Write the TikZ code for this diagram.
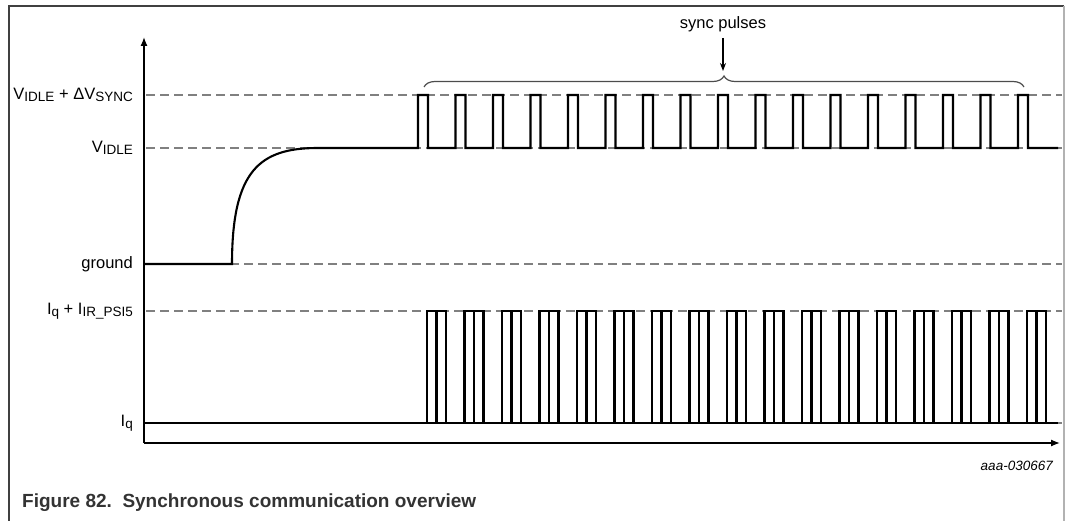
\documentclass[tikz,border=0pt]{standalone}
\usepackage{fontspec}
\setmainfont{Liberation Sans}
\usetikzlibrary{arrows.meta,decorations.pathreplacing}
\newcommand{\sbs}[1]{\raisebox{-2.5pt}{\fontsize{13.5}{14}\selectfont #1}}
\definecolor{dashgray}{HTML}{808080}
\definecolor{capgray}{HTML}{333333}
\begin{document}
\begin{tikzpicture}[x=1pt,y=-1pt,
  wave/.style={line width=2.1pt,black},
  axis/.style={line width=1.3pt,black,-{Latex[length=9pt,width=7pt]}},
  level/.style={dashgray,line width=1.1pt,dash pattern=on 9pt off 5pt},
  lab/.style={anchor=east,inner sep=0pt,font=\fontsize{16.5}{18}\selectfont},
]
\useasboundingbox (0,0) rectangle (1069,521);
% frame
\draw[line width=1.3pt,black!75] (9,521) -- (9,6) -- (1064,6);
\draw[line width=1.8pt,black!30] (1064,6) -- (1064,521);
% level lines
\foreach \yy in {95,148,264,311,423} \draw[level] (146,\yy) -- (1062,\yy);
% labels
\node[lab] (vsync) at (133,95) {V\sbs{IDLE} + ΔV\sbs{SYNC}};
\node[lab] (vidle) at (133,148) {V\sbs{IDLE}};
\node[lab] (gnd) at (133,264) {ground};
\node[lab] (iir) at (133,311) {I\sbs{q} + I\sbs{IR\_PSI5}};
\node[lab] (iq) at (133,423) {I\sbs{q}};
% axes
\coordinate (orig) at (144,443);
\coordinate (ytop) at (144,37);
\coordinate (xend) at (1060,443);
\draw[axis] (orig) -- (ytop);
\draw[axis] (orig) -- (xend);
% voltage waveform
\draw[wave] (144,264) -- (232,264) .. controls (232,170) and (260,148) .. (318,148) -- (418,148)
  \foreach \i in {0,...,16} { -- ({418+37.5*\i},148) -- ({418+37.5*\i},95) -- ({428+37.5*\i},95) -- ({428+37.5*\i},148) }
  -- (1058,148);
% current waveform
\draw[wave] (144,423) -- (1058,423);
\foreach \i in {0,...,16} {
  \draw[wave] ({427+37.5*\i},423) |- ({446+37.5*\i},311) -- ({446+37.5*\i},423);
  \draw[line width=2.6pt] ({436.5+37.5*\i},311) -- ({436.5+37.5*\i},423);
}
% brace and label
\draw[line width=1.2pt,black!70,decorate,decoration={brace,amplitude=11pt}] (424,87) -- (1024,87);
\node[inner sep=0pt,font=\fontsize{16.5}{18}\selectfont] (sync) at (723,24) {sync pulses};
\coordinate (bracetip) at (723,71);
\draw[line width=1.1pt,-{Stealth[length=8pt,width=6pt]}] (sync.south) ++(0,6) coordinate (arrstart) (arrstart) -- (bracetip);
% figure id and caption
\node[anchor=east,inner sep=0pt,font=\fontsize{13.5}{15}\selectfont\itshape] (fid) at (1053,466) {aaa-030667};
\node[anchor=west,inner sep=0pt,font=\fontsize{19}{21}\selectfont\bfseries,text=capgray] (cap) at (22,503) {Figure 82.\ \ Synchronous communication overview};
\end{tikzpicture}
\end{document}
